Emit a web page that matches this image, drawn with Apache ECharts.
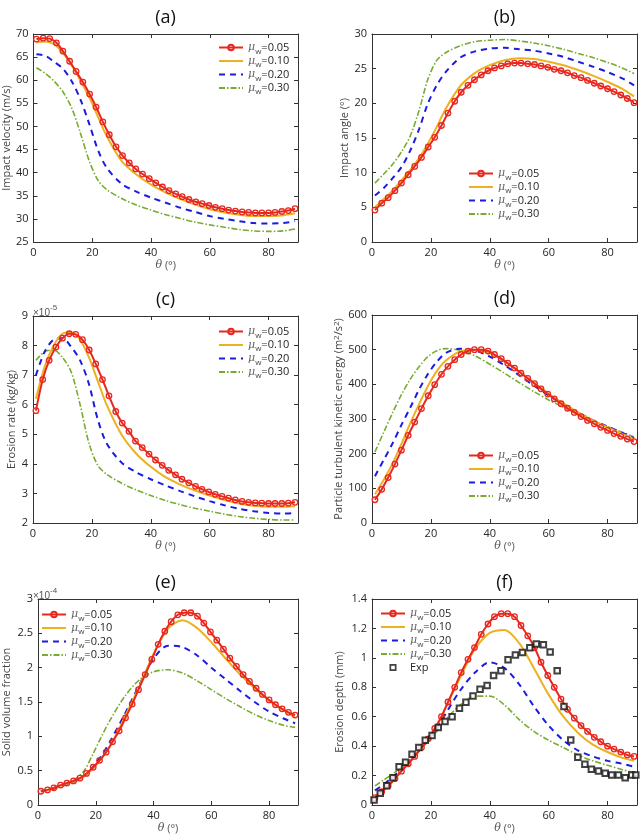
<!DOCTYPE html>
<html>
<head>
<meta charset="utf-8">
<script src="https://cdn.jsdelivr.net/npm/echarts@6/dist/echarts.min.js"></script>
<style>
  html, body { margin: 0; padding: 0; background: #fff; }
  #chart { width: 642px; height: 835px; }
</style>
</head>
<body>
<div id="chart"></div>
<script>
// theta positions of the marked (mu_w = 0.05) curves and of the plain curves
const thetaMarked = [1, 3.3, 5.5, 7.8, 10, 12.3, 14.5, 16.8, 19.1, 21.3, 23.6, 25.8, 28.1, 30.3, 32.6, 34.8, 37.1, 39.4, 41.6, 43.9,
  46.1, 48.4, 50.6, 52.9, 55.2, 57.4, 59.7, 61.9, 64.2, 66.4, 68.7, 71, 73.2, 75.5, 77.7, 80, 82.2, 84.5, 86.7, 89];
const thetaLine = [1, 4, 7, 10, 13, 16, 19, 22, 25, 30, 35, 40, 45, 50, 55, 60, 65, 70, 75, 80, 85, 89];

const seriesNames = ['μw=0.05', 'μw=0.10', 'μw=0.20', 'μw=0.30'];

// (a) impact velocity, m/s
const velRed = [68.9, 69.1, 69.0, 68.1, 66.3, 64.1, 61.9, 59.6, 57.0, 54.2, 51.0, 48.2, 45.6, 43.7, 42.1, 40.8, 39.7, 38.7, 37.8, 36.9,
  36.1, 35.4, 34.8, 34.2, 33.7, 33.3, 32.9, 32.5, 32.2, 31.9, 31.7, 31.5, 31.4, 31.3, 31.3, 31.3, 31.4, 31.6, 31.8, 32.2];
const velOrange = [68.2, 68.4, 67.8, 65.9, 63.2, 59.9, 56.3, 52.0, 47.8, 42.5, 39.6, 37.4, 35.7, 34.3, 33.1, 32.1, 31.4, 30.9, 30.6, 30.6, 30.8, 31.2];
const velBlue = [65.6, 65.3, 64.0, 62.5, 59.8, 55.8, 50.5, 44.8, 41.0, 37.6, 35.9, 34.6, 33.5, 32.4, 31.5, 30.6, 30.0, 29.5, 29.1, 29.0, 29.1, 29.5];
const velGreen = [62.7, 61.5, 59.8, 57.5, 54.0, 48.5, 42.5, 38.3, 36.3, 34.4, 33.0, 31.9, 30.9, 30.1, 29.3, 28.7, 28.2, 27.7, 27.4, 27.3, 27.4, 27.8];

// (b) impact angle, degrees
const angRed = [4.6, 5.6, 6.4, 7.4, 8.5, 9.7, 10.9, 12.2, 13.7, 15.1, 16.8, 18.6, 20.3, 21.6, 22.6, 23.4, 24.1, 24.7, 25.1, 25.4,
  25.7, 25.8, 25.8, 25.7, 25.6, 25.4, 25.2, 24.9, 24.7, 24.4, 24.0, 23.7, 23.3, 22.9, 22.5, 22.1, 21.7, 21.2, 20.7, 20.1];
const angOrange = [5.0, 6.2, 7.4, 8.9, 10.4, 12.1, 14.2, 16.6, 19.2, 22.5, 24.4, 25.5, 26.2, 26.5, 26.4, 26.0, 25.5, 24.8, 24.0, 23.1, 22.1, 21.0];
const angBlue = [6.7, 7.8, 9.2, 10.8, 13.2, 16.3, 20.0, 22.6, 24.5, 26.6, 27.5, 27.9, 28.0, 27.8, 27.6, 27.2, 26.7, 26.0, 25.3, 24.5, 23.6, 22.6];
const angGreen = [8.5, 9.8, 11.2, 13.0, 15.3, 19.0, 23.5, 26.2, 27.3, 28.3, 28.9, 29.1, 29.2, 29.0, 28.7, 28.3, 27.8, 27.2, 26.6, 25.9, 25.1, 24.3];

// (c) erosion rate, x1e-5 kg/kg
const eroRed = [5.8, 6.85, 7.5, 7.95, 8.25, 8.4, 8.38, 8.2, 7.85, 7.38, 6.85, 6.3, 5.77, 5.38, 5.1, 4.77, 4.55, 4.33, 4.13, 3.95,
  3.78, 3.63, 3.48, 3.36, 3.24, 3.14, 3.05, 2.97, 2.9, 2.84, 2.78, 2.73, 2.7, 2.68, 2.67, 2.66, 2.66, 2.66, 2.67, 2.7];
const eroOrange = [6.2, 7.3, 8.0, 8.4, 8.45, 8.2, 7.6, 6.8, 6.0, 5.0, 4.35, 3.9, 3.55, 3.3, 3.1, 2.93, 2.78, 2.66, 2.58, 2.55, 2.55, 2.57];
const eroBlue = [7.0, 7.8, 8.2, 8.25, 7.95, 7.5, 6.7, 5.5, 4.7, 4.05, 3.72, 3.48, 3.27, 3.08, 2.9, 2.74, 2.6, 2.48, 2.4, 2.34, 2.32, 2.33];
const eroGreen = [7.5, 7.8, 7.85, 7.6, 7.1, 6.0, 4.7, 3.95, 3.65, 3.35, 3.12, 2.93, 2.76, 2.62, 2.5, 2.4, 2.3, 2.22, 2.16, 2.12, 2.1, 2.1];

// (d) particle turbulent kinetic energy, m2/s2
const tkeRed = [67, 97, 131, 170, 210, 253, 291, 330, 367, 399, 429, 452, 471, 486, 496, 500, 500, 496, 486, 474,
  461, 447, 432, 417, 402, 387, 372, 358, 344, 331, 319, 307, 296, 286, 276, 267, 258, 250, 242, 235];
const tkeOrange = [83, 125, 172, 228, 288, 343, 395, 438, 468, 495, 500, 490, 466, 437, 405, 373, 345, 319, 296, 276, 257, 242];
const tkeBlue = [135, 182, 230, 283, 333, 385, 430, 465, 490, 503, 498, 480, 455, 426, 396, 368, 342, 318, 297, 278, 260, 245];
const tkeGreen = [205, 262, 318, 370, 415, 451, 480, 497, 503, 498, 482, 458, 432, 405, 379, 355, 334, 314, 295, 278, 262, 248];

// (e) solid volume fraction, x1e-4
const svfRed = [0.2, 0.22, 0.25, 0.29, 0.32, 0.35, 0.39, 0.46, 0.55, 0.65, 0.77, 0.92, 1.08, 1.27, 1.47, 1.68, 1.9, 2.12, 2.34, 2.53,
  2.67, 2.77, 2.8, 2.8, 2.75, 2.65, 2.52, 2.4, 2.27, 2.14, 2.02, 1.9, 1.8, 1.7, 1.61, 1.53, 1.46, 1.4, 1.35, 1.31];
const svfOrange = [0.2, 0.23, 0.27, 0.31, 0.35, 0.42, 0.53, 0.68, 0.86, 1.28, 1.72, 2.2, 2.57, 2.69, 2.58, 2.37, 2.13, 1.9, 1.7, 1.52, 1.38, 1.28];
const svfBlue = [0.2, 0.22, 0.26, 0.3, 0.35, 0.42, 0.55, 0.72, 0.93, 1.32, 1.74, 2.13, 2.32, 2.3, 2.18, 2.0, 1.83, 1.66, 1.5, 1.36, 1.26, 1.19];
const svfGreen = [0.2, 0.23, 0.27, 0.32, 0.38, 0.5, 0.74, 1.0, 1.24, 1.58, 1.82, 1.94, 1.97, 1.92, 1.81, 1.68, 1.55, 1.43, 1.32, 1.23, 1.16, 1.13];

// (f) erosion depth, mm
const depRed = [0.05, 0.09, 0.13, 0.18, 0.23, 0.28, 0.33, 0.39, 0.45, 0.52, 0.6, 0.7, 0.8, 0.9, 0.99, 1.07, 1.16, 1.23, 1.28, 1.3,
  1.3, 1.28, 1.22, 1.15, 1.07, 0.97, 0.88, 0.8, 0.72, 0.65, 0.59, 0.54, 0.5, 0.46, 0.43, 0.4, 0.38, 0.36, 0.34, 0.33];
const depOrange = [0.06, 0.1, 0.16, 0.23, 0.3, 0.37, 0.45, 0.54, 0.66, 0.87, 1.06, 1.17, 1.19, 1.1, 0.93, 0.75, 0.6, 0.49, 0.41, 0.36, 0.32, 0.3];
const depBlue = [0.1, 0.14, 0.19, 0.24, 0.3, 0.37, 0.44, 0.52, 0.62, 0.78, 0.9, 0.97, 0.93, 0.82, 0.67, 0.54, 0.44, 0.37, 0.33, 0.3, 0.28, 0.26];
const depGreen = [0.13, 0.17, 0.21, 0.26, 0.31, 0.37, 0.43, 0.5, 0.58, 0.68, 0.74, 0.74, 0.68, 0.58, 0.5, 0.44, 0.39, 0.34, 0.3, 0.27, 0.24, 0.22];

// (f) experiment
const expTheta = [0.7, 2.8, 5, 7.1, 9.2, 11.4, 13.6, 15.9, 18.1, 20.4, 22.5, 24.8, 27.2, 29.7, 31.9, 34.3, 36.7, 39.1, 41.3, 43.8,
  46.2, 48.7, 51.1, 53.6, 55.8, 58.2, 60.5, 62.9, 65.2, 67.5, 69.9, 72.3, 74.5, 76.9, 79.2, 81.4, 83.7, 86, 88.2, 89.6];
const expDepth = [0.034, 0.08, 0.13, 0.185, 0.26, 0.29, 0.345, 0.39, 0.44, 0.472, 0.526, 0.567, 0.6, 0.658, 0.699, 0.74, 0.787, 0.812, 0.88, 0.912,
  0.987, 1.02, 1.037, 1.069, 1.094, 1.089, 1.04, 0.912, 0.669, 0.442, 0.324, 0.277, 0.243, 0.231, 0.215, 0.204, 0.204, 0.186, 0.204, 0.204];

const panels = [
  { title: '(a)', yName: 'Impact velocity (m/s)', yMin: 25, yMax: 70, yStep: 5, curves: [velRed, velOrange, velBlue, velGreen] },
  { title: '(b)', yName: 'Impact angle (°)', yMin: 0, yMax: 30, yStep: 5, curves: [angRed, angOrange, angBlue, angGreen] },
  { title: '(c)', yName: 'Erosion rate (kg/kg)', yMin: 2, yMax: 9, yStep: 1, curves: [eroRed, eroOrange, eroBlue, eroGreen], scale: '-5' },
  { title: '(d)', yName: 'Particle turbulent kinetic energy (m{sup|2}/s{sup|2})', yMin: 0, yMax: 600, yStep: 100, curves: [tkeRed, tkeOrange, tkeBlue, tkeGreen] },
  { title: '(e)', yName: 'Solid volume fraction', yMin: 0, yMax: 3, yStep: 0.5, curves: [svfRed, svfOrange, svfBlue, svfGreen], scale: '-4' },
  { title: '(f)', yName: 'Erosion depth (mm)', yMin: 0, yMax: 1.4, yStep: 0.2, curves: [depRed, depOrange, depBlue, depGreen] },
];

// layout
const grids = [
  { left: 33, top: 34, width: 265, height: 208 },
  { left: 372, top: 34, width: 265, height: 208 },
  { left: 33, top: 316, width: 265, height: 207 },
  { left: 372, top: 315, width: 265, height: 208 },
  { left: 33, top: 599, width: 265, height: 206 },
  { left: 372, top: 599, width: 265, height: 206 },
];
const yNameGaps = [20, 20, 16, 28, 26, 27];
const legendPos = [
  { left: 218, top: 42 }, { left: 468, top: 168 },
  { left: 218, top: 326 }, { left: 468, top: 450 },
  { left: 41, top: 609 }, { left: 380, top: 608 },
];

const FONT = 'Open Sans';
const AXIS = '#333';
const styles = [
  { color: '#e8281f', width: 2, type: 'solid', marked: true },
  { color: '#edb120', width: 2, type: 'solid' },
  { color: '#1c1ce0', width: 2, type: [6, 5] },
  { color: '#77ac30', width: 1.6, type: [6, 2, 1.5, 2] },
];
// hollow square used as the legend icon of the experimental points
const expIcon = 'path://M0,0H10V10H0ZM2.4,2.4V7.6H7.6V2.4Z';

function legendFormatter(name) {
  if (name === 'Exp') return '{t|Exp}';
  return '{mu|μ}{sub|w}{t|=' + name.slice(3) + '}';
}

const xAxis = [];
const yAxis = [];
const series = [];
const legend = [];
const graphic = [];

panels.forEach((p, k) => {
  const g = grids[k];
  const tick = { inside: true, length: 4, lineStyle: { color: AXIS, width: 1 } };
  const line = { onZero: false, lineStyle: { color: AXIS, width: 1 } };
  const label = { color: '#262626', fontSize: 11, fontFamily: FONT, margin: 5 };

  xAxis.push({
    gridIndex: k, type: 'value', position: 'bottom', min: 0, max: 90, interval: 20,
    axisLine: line, axisTick: tick, splitLine: { show: false },
    axisLabel: { ...label, showMaxLabel: false },
    name: '{i|θ} (°)', nameLocation: 'middle', nameGap: 18,
    nameTextStyle: { color: '#555', fontSize: 11, fontFamily: FONT,
      rich: { i: { fontStyle: 'italic', fontFamily: 'DejaVu Serif', fontSize: 11, color: '#555' } } },
  });
  xAxis.push({
    gridIndex: k, type: 'value', position: 'top', min: 0, max: 90, interval: 20,
    axisLine: line, axisTick: tick, splitLine: { show: false }, axisLabel: { show: false },
  });
  yAxis.push({
    gridIndex: k, type: 'value', position: 'left', min: p.yMin, max: p.yMax, interval: p.yStep,
    axisLine: line, axisTick: tick, splitLine: { show: false }, axisLabel: label,
    name: p.yName, nameLocation: 'middle', nameGap: yNameGaps[k],
    nameTextStyle: { color: '#444', fontSize: 11, fontFamily: FONT,
      rich: { sup: { fontSize: 8, verticalAlign: 'top', lineHeight: 8, color: '#444' } } },
  });
  yAxis.push({
    gridIndex: k, type: 'value', position: 'right', min: p.yMin, max: p.yMax, interval: p.yStep,
    axisLine: line, axisTick: tick, splitLine: { show: false }, axisLabel: { show: false },
  });

  p.curves.forEach((vals, j) => {
    const s = styles[j];
    const xs = s.marked ? thetaMarked : thetaLine;
    series.push({
      type: 'line', name: seriesNames[j], xAxisIndex: 2 * k, yAxisIndex: 2 * k,
      data: vals.map((v, i) => [xs[i], v]),
      smooth: 0.3,
      symbol: 'circle',
      symbolSize: 5.5,
      showSymbol: !!s.marked,
      lineStyle: { color: s.color, width: s.width, type: s.type },
      // open (unfilled) circles on the marked curve; unmarked curves get a
      // transparent item colour so their legend icon is a bare line
      itemStyle: s.marked
        ? { color: 'rgba(0,0,0,0)', borderColor: s.color, borderWidth: 1.3 }
        : { color: 'rgba(0,0,0,0)', borderWidth: 0 },
      z: 10 - j,
    });
  });

  const names = seriesNames.slice();
  if (k === 5) {
    series.push({
      type: 'scatter', name: 'Exp', xAxisIndex: 2 * k, yAxisIndex: 2 * k,
      data: expTheta.map((t, i) => [t, expDepth[i]]),
      symbol: 'emptyRect', symbolSize: 5.5,
      itemStyle: { color: '#111', borderColor: '#111', borderWidth: 1.8 },
      z: 12,
    });
    names.push({ name: 'Exp', icon: expIcon, itemStyle: { borderWidth: 0 } });
  }

  legend.push({
    orient: 'vertical', left: legendPos[k].left, top: legendPos[k].top,
    data: names, itemWidth: 24, itemHeight: 7, itemGap: 0, selectedMode: false,
    symbolKeepAspect: true,
    formatter: legendFormatter, padding: 0,
    textStyle: {
      fontFamily: FONT, fontSize: 11, color: '#262626',
      rich: {
        mu: { fontStyle: 'italic', fontFamily: 'DejaVu Serif', fontSize: 11, color: '#666', lineHeight: 16 },
        sub: { fontSize: 8, color: '#444', verticalAlign: 'bottom', lineHeight: 9 },
        t: { fontSize: 11, color: '#262626', lineHeight: 16 },
      },
    },
  });

  graphic.push({
    type: 'text', x: g.left + g.width / 2, y: g.top - 16,
    style: { text: p.title, fontSize: 18, fontFamily: FONT, fill: '#111',
      textAlign: 'center', textVerticalAlign: 'middle', align: 'center', verticalAlign: 'middle' },
  });
  if (p.scale) {
    graphic.push({
      type: 'text', x: g.left, y: g.top - 5,
      style: { text: '{a|×10}{b|' + p.scale + '}', fill: '#555', fontFamily: FONT, fontSize: 10,
        textVerticalAlign: 'middle', verticalAlign: 'middle',
        rich: { a: { fontSize: 10, fill: '#555', color: '#555', lineHeight: 14, verticalAlign: 'bottom' },
                b: { fontSize: 8, fill: '#555', color: '#555', lineHeight: 8, verticalAlign: 'top' } } },
    });
  }
});

const chart = echarts.init(document.getElementById('chart'));
chart.setOption({
  animation: false,
  backgroundColor: '#fff',
  textStyle: { fontFamily: FONT },
  grid: grids.map(g => ({ ...g, containLabel: false })),
  xAxis, yAxis, series, legend, graphic,
});
</script>
</body>
</html>
